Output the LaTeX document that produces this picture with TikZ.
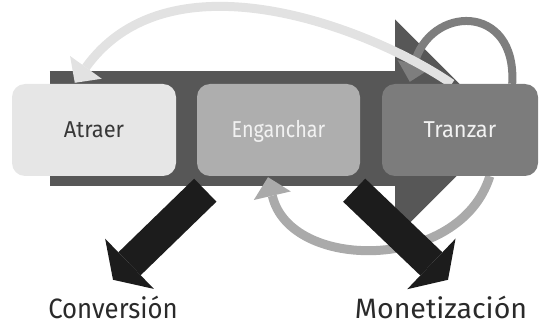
\documentclass[tikz,border=0pt]{standalone}
\usepackage{fontspec}
\setmainfont{Fira Sans}
\usetikzlibrary{arrows.meta}

\definecolor{flowdark}{HTML}{575757}
\definecolor{boxone}{HTML}{E6E6E6}
\definecolor{boxtwo}{HTML}{AEAEAE}
\definecolor{boxthree}{HTML}{7C7C7C}
\definecolor{textdark}{HTML}{383838}
\definecolor{textlight}{HTML}{F2F2F2}
\definecolor{arclight}{HTML}{E2E2E2}
\definecolor{arcmid}{HTML}{7E7E7E}
\definecolor{arcsoft}{HTML}{AAAAAA}
\definecolor{outblack}{HTML}{1C1C1C}
\definecolor{captext}{HTML}{2A2A2A}

\pgfdeclarelayer{back}
\pgfdeclarelayer{mid}
\pgfsetlayers{back,mid,main}

\begin{document}
\begin{tikzpicture}[x=1pt,y=-1pt,
  stage/.style={rounded corners=13pt, minimum height=92pt, inner sep=0pt,
    text height=16pt, text depth=0pt, font=\fontsize{23}{23}\selectfont},
  caption/.style={inner sep=0pt, text height=20pt, text depth=0pt,
    text=captext, font=\fontsize{28}{28}\selectfont},
  bigflow/.style={line width=115pt, draw=flowdark,
    -{Triangle[length=109pt,width=218pt,line width=0pt]}},
  toparc/.style={line width=9pt, draw=arclight,
    -{Triangle[length=19pt,width=39pt,line width=0pt]}},
  selfloop/.style={line width=8pt, draw=arcmid,
    -{Triangle[length=18pt,width=34pt,line width=0pt]}},
  backloop/.style={line width=9pt, draw=arcsoft,
    -{Triangle[length=19pt,width=38pt,line width=0pt]}},
  outflow/.style={line width=32pt, draw=outblack,
    -{Triangle[length=23pt,width=70pt,line width=0pt]}}]

\useasboundingbox (0,0) rectangle (539,326);

% the three stages
\node[stage, minimum width=164pt, fill=boxone, text=textdark] (atraer) at (94,130)
  {\scalebox{0.95}[1]{Atraer}};
\node[stage, minimum width=163pt, fill=boxtwo, text=textlight] (enganchar) at (278.5,130)
  {\scalebox{0.86}[1]{Enganchar}};
\node[stage, minimum width=156pt, fill=boxthree, text=textlight] (tranzar) at (460,130)
  {\scalebox{0.95}[1]{Tranzar}};

% outcomes
\node[caption] (conv) at (113,309) {\scalebox{0.92}[1]{Conversión}};
\node[caption] (mon) at (441,309) {\scalebox{1.02}[1]{Monetización}};

% broad flow behind the stages
\coordinate (flowstart) at ([shift={(38,-1.5)}]atraer.west);
\coordinate (flowend) at ([shift={(-34,-1.5)}]tranzar.east);
\begin{pgfonlayer}{back}
  \draw[bigflow] (flowstart) -- (flowend);
\end{pgfonlayer}

% feedback loops
\begin{pgfonlayer}{mid}
  \draw[backloop] ([shift={(108,0)}]tranzar.south west)
    .. controls (460,272) and (290,272) .. ([shift={(-10.5,1)}]enganchar.south);
  \draw[selfloop] ([shift={(-26,0)}]tranzar.north east)
    .. controls (517,2) and (429,5) .. ([shift={(28,-2)}]tranzar.north west);
  \draw[toparc] ([shift={(70,0)}]tranzar.north west)
    .. controls (374,30) and (171,-51) .. ([shift={(63,-1)}]atraer.north west);
\end{pgfonlayer}

% outputs
\draw[outflow] ([shift={(8.5,14)}]enganchar.south west) -- ([shift={(0,-19)}]conv.north);
\draw[outflow] ([shift={(-6,14)}]enganchar.south east) -- ([shift={(7,-19)}]mon.north);

\end{tikzpicture}
\end{document}
